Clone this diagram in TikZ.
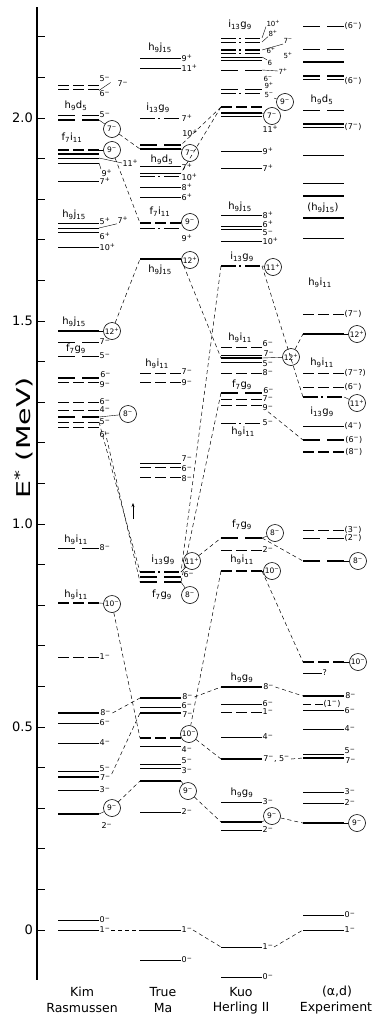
\documentclass[tikz,border=0pt]{standalone}
\usepackage{fontspec}
\setmainfont{DejaVu Sans}
\usetikzlibrary{arrows.meta}
\newcommand\jm[1]{#1\textsuperscript{−}}
\newcommand\jp[1]{#1\textsuperscript{+}}
\newcommand\Cf[4]{#1\textsubscript{#2}#3\textsubscript{#4}}
\newcommand\Lv[6][0]{\draw[#5] (#3,#4) coordinate (#2L) -- ++(41,0) coordinate (#2R) node[lb,yshift=#1pt] (#2t) {#6};}
\begin{document}
\begin{tikzpicture}[x=1pt,y=-1pt,
 lv/.style={line width=0.8pt},
 lvk/.style={line width=2.2pt},
 dtwo/.style={dash pattern=on 17pt off 7pt},
 dthree/.style={dash pattern=on 11pt off 4pt},
 ddot/.style={dash pattern=on 15pt off 3pt on 2pt off 4pt},
 cn/.style={line width=0.5pt,dash pattern=on 4pt off 3pt},
 ld/.style={line width=0.4pt},
 lb/.style={anchor=west,inner sep=0.3pt,font=\fontsize{8}{8}\selectfont},
 lbs/.style={anchor=west,inner sep=0.3pt,font=\fontsize{7}{7}\selectfont},
 cg/.style={inner sep=0pt,font=\fontsize{10}{10}\selectfont},
 cc/.style={circle,draw,line width=0.6pt,fill=white,minimum size=17pt,inner sep=0pt,font=\fontsize{7.5}{7.5}\selectfont},
 ttl/.style={font=\fontsize{12.5}{12.5}\selectfont,inner sep=0pt},
 axl/.style={anchor=east,font=\fontsize{13}{13}\selectfont,inner sep=0pt}]
\fill[white] (0,0) rectangle (375,1017);
\useasboundingbox (0,0) rectangle (375,1017);
% axis
\coordinate (axT) at (37,7); \coordinate (axB) at (37,980);
\draw[line width=1.3pt] (axT) -- (axB);
\foreach \k in {0,...,22} \draw[line width=1pt] (37,{930-40.6*\k}) -- ++(8,0);
\node[axl] (a20) at (33,118) {2.0};
\node[axl] (a15) at (33,321) {1.5};
\node[axl] (a10) at (33,524) {1.0};
\node[axl] (a05) at (33,727) {0.5};
\node[axl] (a00) at (33,930) {0};
\node[rotate=90,font=\fontsize{19}{19}\selectfont] (ylab) at (24,438) {\scalebox{1.5}[1]{E\textsuperscript{*} (MeV)}};
% titles
\node[ttl] (t1a) at (82,992) {Kim};
\node[ttl] (t1b) at (82,1008) {Rasmussen};
\node[ttl] (t2a) at (163,992) {True};
\node[ttl] (t2b) at (163,1008) {Ma};
\node[ttl] (t3a) at (241,992) {Kuo};
\node[ttl] (t3b) at (241,1008) {Herling II};
\node[ttl] (t4a) at (337,992) {(α,d)};
\node[ttl] (t4b) at (336,1008) {Experiment};
% ---------------- Kim Rasmussen
\Lv{ka}{58}{85}{lv,dthree}{}
\Lv{kb}{58}{89}{lv,dthree}{}
\node[lb] (k5a) at (99,79) {\jm5};
\node[lb] (k6a) at (99,94) {\jm6};
\node[lb] (k7a) at (117,84) {\jm7};
\draw[ld] (k6a.north west) -- (k5a.south east);
\node[cg] (kg1) at (76,106) {\Cf h9d5};
\Lv{kc}{58}{115}{lv,dtwo}{\jm5}
\Lv{kd}{58}{120}{lvk,dtwo}{}
\node[cc] (kc7) at (112,129) {\jm7};
\draw[ld] (kdR) -- (kc7);
\node[cg] (kg2) at (72,138) {\Cf f7i{11}};
\Lv{ke}{58}{150}{lvk,dthree}{}
\Lv{kf}{58}{154}{lvk}{}
\Lv{kg}{58}{158}{lv}{}
\Lv{kh}{58}{163}{lv}{}
\node[cc] (kc9) at (112,150) {\jm9};
\draw[ld] (keR) -- (kc9);
\node[lb] (k11p) at (122,163) {\jp{11}};
\node[lb] (k9p) at (101,173) {\jp9};
\draw[ld] (kgR) -- (k11p.west);
\draw[ld] (khR) -- (k9p.north west);
\Lv{ki}{58}{181}{lv}{\jp7}
\node[cg] (kg3) at (74,215) {\Cf h9j{15}};
\Lv[2]{kj}{58}{223}{lv}{\jp5}
\Lv{kk}{58}{228}{lv}{}
\Lv[-4]{kl}{58}{232}{lv}{\jp6}
\node[lb] (k7p) at (117,220) {\jp7};
\draw[ld] (kkR) -- (k7p.south west);
\Lv{km}{58}{247}{lv}{\jp{10}}
\node[cg] (kg4) at (74,322) {\Cf h9j{15}};
\Lv{kn}{58}{331}{lvk}{}
\node[cc] (kc12) at (112,331) {\jp{12}};
\draw[ld] (knR) -- (kc12);
\Lv{ko}{58}{342}{lv,dtwo}{\jm7}
\node[cg] (kg5) at (76,349) {\Cf f7g9};
\Lv{kp}{58}{356}{lv,dtwo}{\jm5}
\Lv[3]{kq}{58}{378}{lvk,dtwo}{\jm6}
\Lv[-3]{kr}{58}{382}{lv,dthree}{\jm9}
\Lv{ks}{58}{402}{lv,dthree}{\jm6}
\Lv{kt}{58}{410}{lv,dthree}{\jm4}
\Lv{ku}{58}{417}{lvk,dtwo}{}
\node[cc] (kc8) at (128,414) {\jm8};
\draw[ld] (kuR) -- (kc8);
\Lv{kv}{58}{422}{lv,dthree}{\jm5}
\Lv[-8]{kw}{58}{427}{lv,dthree}{\jm6}
\node[cg] (kg6) at (76,540) {\Cf h9i{11}};
\Lv{kx}{58}{548}{lv,dtwo}{\jm8}
\node[cg] (kg7) at (76,595) {\Cf h9i{11}};
\Lv{ky}{58}{603}{lvk,dthree}{}
\node[cc] (kc10) at (112,604) {\jm{10}};
\draw[ld] (kyR) -- (kc10);
\Lv{kz}{58}{657}{lv,dthree}{\jm1}
\Lv{kA}{58}{713}{lvk}{\jm8}
\Lv{kB}{58}{723}{lv}{\jm6}
\Lv{kC}{58}{743}{lv}{\jm4}
\Lv[2]{kD}{58}{771}{lv}{\jm5}
\Lv[-1]{kE}{58}{777}{line width=1.5pt}{\jm7}
\Lv{kF}{58}{790}{lv}{\jm3}
\Lv{kG}{58}{814}{lvk}{}
\node[cc] (kc9b) at (112,808) {\jm9};
\draw[ld] (kGR) -- (kc9b);
\node[lb] (k2m) at (101,826) {\jm2};
\Lv{kH}{58}{920}{lv}{\jm0}
\Lv{kI}{58}{930}{lv}{\jm1}
% ---------------- True Ma
\node[cg] (mg1) at (160,48) {\Cf h9j{15}};
\Lv{ma}{140}{58}{lv}{\jp9}
\Lv{mb}{140}{68}{lv}{\jp{11}}
\node[cg] (mg2) at (158,108) {\Cf i{13}g9};
\Lv{mc}{140}{118}{lv,ddot}{\jp7}
\Lv[12]{md}{140}{145}{lvk,dtwo}{\jp{10}}
\Lv{me}{140}{149}{lvk}{}
\node[cc] (mc7) at (190,153) {\jm7};
\draw[ld] (meR) -- (mc7);
\node[cg] (mg3) at (162,160) {\Cf h9d5};
\Lv[-1]{mf}{140}{166}{lv}{\jp7}
\Lv{mg}{140}{173}{lv}{}
\Lv[-1]{mh}{140}{176}{lv,ddot}{\jp{10}}
\Lv{mi}{140}{187}{lv}{\jp8}
\Lv{mj}{140}{197}{lv}{\jp6}
\node[cg] (mg4) at (160,212) {\Cf f7i{11}};
\Lv{mk}{140}{223}{lvk,dthree}{}
\node[cc] (mc9) at (190,222) {\jm9};
\draw[ld] (mkR) -- (mc9);
\Lv[-10]{ml}{140}{228}{lv,ddot}{\jp9}
\Lv{mm}{140}{259}{lvk}{}
\node[cc] (mc12) at (190,260) {\jp{12}};
\draw[ld] (mmR) -- (mc12);
\node[cg] (mg5) at (160,270) {\Cf h9j{15}};
\node[cg] (mg6) at (157,364) {\Cf h9i{11}};
\Lv[1]{mn}{140}{373}{lv,dthree}{\jm7}
\Lv[-1]{mo}{140}{382}{lv,dthree}{\jm9}
\Lv[4]{mp}{140}{463}{lv}{\jm7}
\Lv[-2]{mq}{140}{467}{lv,dthree}{\jm6}
\Lv[-2]{mr}{140}{477}{lv,dthree}{\jm8}
\node[cg] (mg7) at (163,560) {\Cf i{13}g9};
\Lv{ms}{140}{572}{lvk,ddot}{}
\Lv{mt}{140}{577}{lvk,dtwo}{}
\Lv{mu}{140}{582}{lvk,dtwo}{}
\node[cc] (mc11) at (192,561) {\jp{11}};
\draw[ld] (msR) -- (mc11);
\node[lb] (m6m) at (183,575) {\jm6};
\node[cc] (mc8) at (190,595) {\jm8};
\draw[ld] (muR) -- (mc8);
\node[cg] (mg8) at (162,595) {\Cf f7g9};
\Lv[1]{mv}{140}{698}{lvk}{\jm8}
\Lv[1]{mw}{140}{707}{lv}{\jm6}
\Lv[-2]{mx}{140}{713}{lvk}{\jm7}
\Lv{my}{140}{738}{lvk,dthree}{}
\node[cc] (mc10) at (189,734) {\jm{10}};
\draw[ld] (myR) -- (mc10);
\Lv[-4]{mz}{140}{746}{lv}{\jm4}
\Lv[3]{mA}{140}{764}{lv}{\jm5}
\Lv[-3]{mB}{140}{768}{lv}{\jm3}
\Lv{mC}{140}{781}{lvk}{}
\node[cc] (mc9b) at (188,791) {\jm9};
\draw[ld] (mCR) -- (mc9b);
\Lv{mD}{140}{812}{lv}{\jm2}
\Lv{mE}{140}{930}{lv}{\jm1}
\Lv{mF}{140}{960}{lv}{\jm0}
% ---------------- Kuo Herling
\node[cg] (hg1) at (240,25) {\Cf i{13}g9};
\Lv{ha}{221}{38}{lv,ddot}{}
\Lv{hb}{221}{42}{lv,ddot}{}
\node[lbs] (h10p) at (266,23) {\jp{10}};
\node[lbs] (h8p) at (268,33) {\jp8};
\node[lbs] (h7m) at (283,41) {\jm7};
\draw[ld] (haR) -- (h10p.south west);
\draw[ld] (hbR) -- (h8p.south west);
\Lv{hc}{221}{50}{lvk,ddot}{}
\Lv{hd}{221}{53}{lv,ddot}{}
\Lv{he}{221}{57}{lv}{}
\Lv{hf}{221}{60}{lv}{}
\draw[ld] (hcR) -- (h7m.south west);
\node[lbs] (h6p) at (266,50) {\jp6};
\node[lbs] (h5p) at (283,55) {\jp5};
\node[lbs] (h6x) at (267,63) {6};
\draw[ld] (heR) -- (h6x.north west);
\Lv{hg}{221}{70}{lv,dtwo}{}
\node[lbs] (h7p) at (278,71) {\jp7};
\node[lbs] (h6m) at (263,79) {\jm6};
\draw[ld] (hgR) -- (h7p.west);
\Lv{hh}{221}{89}{lv,dtwo}{}
\Lv{hi}{221}{93}{lv,ddot}{}
\node[lbs] (h9p) at (264,85) {\jp9};
\node[lbs] (h5m) at (264,95) {\jm5};
\node[cc] (hc9) at (285,102) {\jm9};
\draw[ld] (h5m.south east) -- (hc9);
\Lv{hj}{221}{107}{lvk,dthree}{}
\Lv{hk}{221}{113}{lvk}{}
\Lv{hl}{221}{116}{lv}{}
\node[cc] (hc7) at (272,116) {\jm7};
\draw[ld] (hkR) -- (hc7);
\node[lb] (h11p) at (262,129) {\jp{11}};
\Lv{hm}{221}{151}{lv}{\jp9}
\Lv{hn}{221}{168}{lv}{\jp7}
\node[cg] (hg2) at (240,207) {\Cf h9j{15}};
\Lv{ho}{221}{215}{lv}{\jp8}
\Lv[2]{hp}{221}{226}{lv}{\jp6}
\Lv[-4]{hq}{221}{229}{lv}{\jm5}
\Lv{hr}{221}{241}{lv}{\jp{10}}
\node[cg] (hg3) at (242,257) {\Cf i{13}g9};
\Lv{hs}{221}{266}{lvk,ddot}{}
\node[cc] (hc11) at (273,267) {\jp{11}};
\draw[ld] (hsR) -- (hc11);
\node[cg] (hg4) at (240,338) {\Cf h9i{11}};
\Lv[3]{ht}{221}{347}{lv,dthree}{\jm6}
\Lv{hu}{221}{355}{lv}{}
\Lv{hv}{221}{358}{lvk}{}
\Lv[-2]{hw}{221}{362}{lv}{\jm5}
\node[lb] (h7n) at (263,354) {\jm7};
\node[cc] (hc12) at (291,357) {\jp{12}};
\draw[ld] (hvR) -- (hc12);
\Lv{hx}{221}{373}{lv,dthree}{\jm8}
\node[cg] (hg5) at (242,385) {\Cf f7g9};
\Lv[2]{hy}{221}{393}{lvk,dtwo}{\jm6}
\Lv{hz}{221}{399}{lv,dthree}{\jm7}
\Lv[-3]{hA}{221}{405}{lv,dthree}{\jm9}
\Lv{hB}{221}{423}{lv,ddot}{\jm5}
\node[cg] (hg6) at (243,432) {\Cf h9i{11}};
\node[cg] (hg7) at (242,525) {\Cf f7g9};
\Lv{hC}{221}{538}{lvk,dtwo}{}
\node[cc] (hc8) at (275,533) {\jm8};
\draw[ld] (hCR) -- (hc8);
\Lv{hD}{221}{550}{lv,dthree}{\jm2}
\node[cg] (hg8) at (242,560) {\Cf h9i{11}};
\Lv{hE}{221}{571}{lvk,dthree}{}
\node[cc] (hc10) at (272,571) {\jm{10}};
\draw[ld] (hER) -- (hc10);
\node[cg] (hg9) at (242,678) {\Cf h9g9};
\Lv{hF}{221}{687}{lvk}{\jm8}
\Lv{hG}{221}{704}{lv}{\jm6}
\Lv{hH}{221}{712}{lv,dthree}{\jm1}
\Lv{hI}{221}{737}{lv}{\jm4}
\Lv{hJ}{221}{759}{lvk}{\jm7, \jm5}
\node[cg] (hg10) at (242,793) {\Cf h9g9};
\Lv{hK}{221}{802}{lv}{\jm3}
\Lv{hL}{221}{822}{lvk}{}
\node[cc] (hc9b) at (272,816) {\jm9};
\draw[ld] (hLR) -- (hc9b);
\Lv{hM}{221}{830}{lv}{\jm2}
\Lv{hN}{221}{947}{lv}{\jm1}
\Lv{hO}{221}{977}{lv}{\jm0}
% ---------------- Experiment
\Lv{ea}{303}{26}{lv,dtwo}{(\jm6)}
\Lv{eb}{303}{49}{lv,dtwo}{}
\Lv{ec}{303}{62}{lvk}{}
\Lv{ed}{303}{76}{lvk,dtwo}{}
\Lv[-2]{ee}{303}{79}{lv,dtwo}{(\jm6)}
\node[cg] (eg1) at (322,100) {\Cf h9d5};
\Lv{ef}{303}{110}{lv,dtwo}{}
\Lv{eg}{303}{124}{lvk}{}
\Lv{eh}{303}{127}{lv}{(\jm7)}
\Lv{ei}{303}{155}{lv}{}
\Lv{ej}{303}{183}{lv}{}
\Lv{ek}{303}{196}{line width=1.2pt}{}
\node[cg] (eg2) at (323,208) {(\Cf h9j{15})};
\Lv{el}{303}{218}{lvk}{}
\Lv{em}{303}{238}{lv}{}
\node[cg] (eg3) at (320,283) {\Cf h9i{11}};
\Lv{en}{303}{314}{lv,dthree}{(\jm7)}
\Lv{eo}{303}{334}{lvk}{}
\node[cc] (ec12) at (357,334) {\jp{12}};
\draw[ld] (eoR) -- (ec12);
\node[cg] (eg4) at (322,363) {\Cf h9i{11}};
\Lv{ep}{303}{373}{lv,dthree}{(\jm7?)}
\Lv{eq}{303}{387}{lv,dthree}{(\jm6)}
\Lv{er}{303}{397}{lvk,ddot}{}
\node[cc] (ec11) at (357,403) {\jp{11}};
\draw[ld] (erR) -- (ec11);
\node[cg] (eg5) at (322,412) {\Cf i{13}g9};
\Lv{es}{303}{426}{lv}{(\jm4)}
\Lv{et}{303}{440}{lvk,dtwo}{(\jm6)}
\Lv{eu}{303}{452}{lvk,dthree}{(\jm8)}
\Lv{ev}{303}{530}{lv,dthree}{(\jm3)}
\Lv{ew}{303}{538}{lv,dtwo}{(\jm2)}
\Lv{ex}{303}{561}{lvk,dtwo}{}
\node[cc] (ec8) at (358,561) {\jm8};
\draw[ld] (exR) -- (ec8);
\Lv{ey}{303}{662}{lvk,dthree}{}
\node[cc] (ec10) at (358,662) {\jm{10}};
\draw[ld] (eyR) -- (ec10);
\draw[lv] (303,673) coordinate (ezL) -- (322,673) coordinate (ezR) node[lb] (ezt) {?};
\Lv{eA}{303}{696}{lvk}{\jm8}
\draw[lv,dash pattern=on 8pt off 4pt] (303,704) coordinate (eBL) -- (323,704) coordinate (eBR) node[lb] (eBt) {(\jm1)};
\Lv[-1]{eC}{303}{710}{lv}{\jm6}
\Lv{eD}{303}{729}{lv}{\jm4}
\Lv[3]{eE}{303}{754}{lv}{\jm5}
\Lv[-3]{eF}{303}{758}{lvk}{\jm7}
\Lv{eG}{303}{792}{lv}{\jm3}
\Lv{eH}{303}{803}{lv}{\jm2}
\Lv{eI}{303}{823}{lvk}{}
\node[cc] (ec9) at (357,823) {\jm9};
\draw[ld] (eIR) -- (ec9);
\Lv{eJ}{303}{915}{lv}{\jm0}
\Lv{eK}{303}{930}{lv}{\jm1}
% ---------------- connectors
\draw[cn] (kc7) -- (meL);
\draw[cn] (kc9) -- (mkL);
\draw[cn] (kc12) -- (mmL);
\draw[cn] (mmR) -- (hvL);
\draw[cn] (hc12) -- (eoL);
\draw[cn] (hsR) -- (erL);
\draw[cn] (hsL) -- (msR);
\draw[cn] (hyL) -- (muR);
\draw[cn] (hjL) -- (mdR);
\draw[cn] (hjL) -- (mgR);
\draw[cn] (mc11) -- (hCL);
\draw[cn] (hCR) -- (exL);
\draw[cn] (hER) -- (eyL);
\draw[cn] (hEL) -- (mc10);
\draw[cn] (kc10) -- (myL);
\draw[cn] (kvR) -- (msL);
\draw[cn] (kwt.north) -- (muL);
\draw[cn] (hAt.south) -- (etL);
\draw[cn] (kAt.east) -- (mvL);
\draw[cn] (kEt.north east) -- (mxL);
\draw[cn] (kc9b) -- (mCL);
\draw[cn] (mvt.east) -- (hFL);
\draw[cn] (hFt.east) -- (eAL);
\draw[cn] (mc10) -- (hJL);
\draw[cn] (hJt.east) -- (eFL);
\draw[cn] (mc9b) -- (hLL);
\draw[cn] (hc9b) -- (eIL);
\draw[cn] (kIt.east) -- (mEL);
\draw[cn] (mEt.east) -- (hNL);
\draw[cn] (hNt.east) -- (eKL);
% arrow
\coordinate (arA) at (133,519); \coordinate (arB) at (133,503);
\draw[line width=0.6pt,-{Stealth[length=4pt,width=3pt]}] (arA) -- (arB);
\end{tikzpicture}
\end{document}
